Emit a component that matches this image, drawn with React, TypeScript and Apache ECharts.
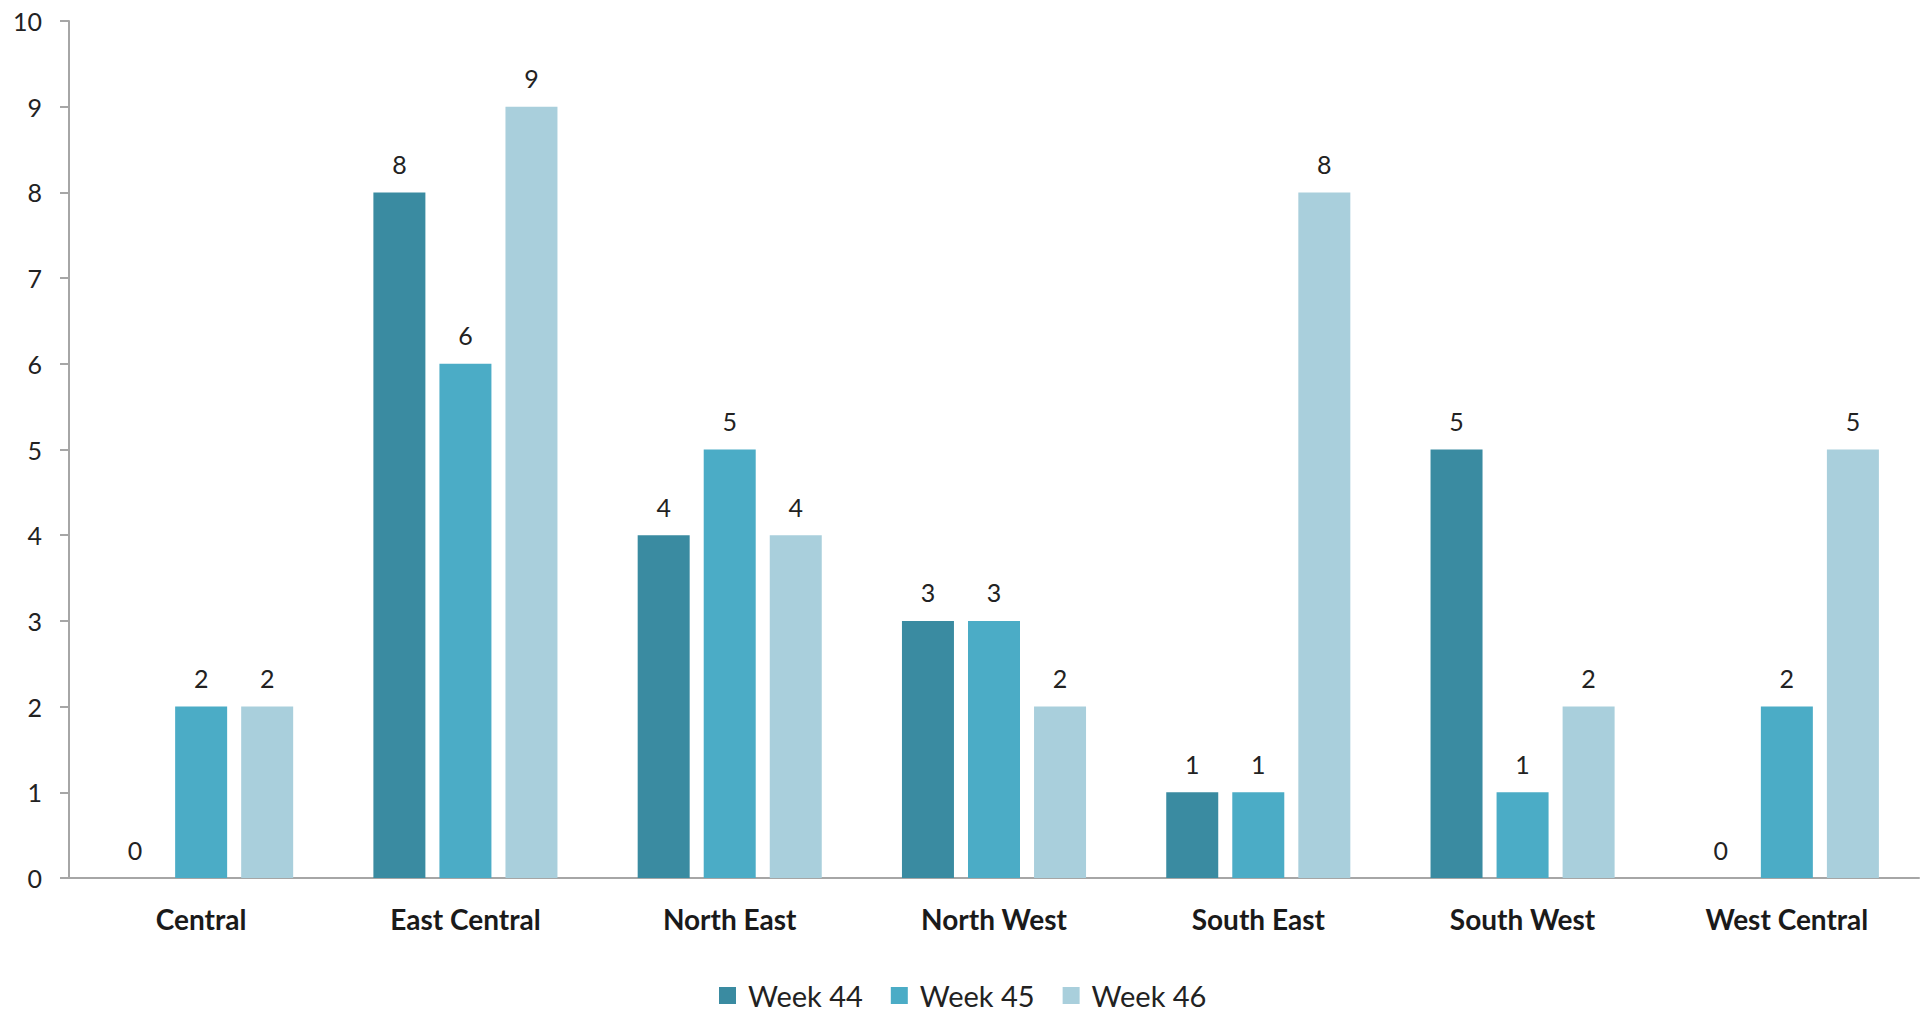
import React, { useEffect, useRef } from "react";
import * as echarts from "echarts";

const categories = ["Central", "East Central", "North East", "North West", "South East", "South West", "West Central"];
const week44 = [0, 8, 4, 3, 1, 5, 0];
const week45 = [2, 6, 5, 3, 1, 1, 2];
const week46 = [2, 9, 4, 2, 8, 2, 5];
const seriesNames = ["Week 44", "Week 45", "Week 46"];
const colors = ["#3a8ba1", "#4bacc6", "#a9cfdc"];

const FONT = "Lato, 'Open Sans', sans-serif";

export default function App() {
  const ref = useRef<HTMLDivElement>(null);
  useEffect(() => {
    document.body.style.margin = "0";
    if (!ref.current) return;
    const chart = echarts.init(ref.current, undefined, { renderer: "svg" });
    const values = [week44, week45, week46];
    chart.setOption({
      animation: false,
      backgroundColor: "#ffffff",
      textStyle: { fontFamily: FONT },
      grid: { left: 69, right: 12, top: 21, bottom: 135, containLabel: false, outerBoundsMode: "none" },
      legend: {
        data: seriesNames,
        left: 714,
        top: 976,
        itemWidth: 17,
        itemHeight: 17,
        itemGap: 28,
        icon: "rect",
        textStyle: { fontSize: 29, color: "#222", fontFamily: FONT, padding: [0, 0, 0, 7] },
      },
      xAxis: {
        type: "category",
        data: categories,
        axisLine: { lineStyle: { color: "#a6a6a6", width: 2 } },
        axisTick: { show: false },
        axisLabel: { fontSize: 28, fontWeight: "bold", color: "#1a1a1a", margin: 27, fontFamily: FONT },
      },
      yAxis: {
        type: "value",
        min: 0,
        max: 10,
        interval: 1,
        splitLine: { show: false },
        axisLine: { show: true, lineStyle: { color: "#a6a6a6", width: 2 } },
        axisTick: { show: true, length: 9, inside: false, lineStyle: { color: "#a6a6a6", width: 2 } },
        axisLabel: { fontSize: 25, color: "#222", margin: 27, fontFamily: FONT },
      },
      series: seriesNames.map((name, i) => ({
        name,
        type: "bar",
        data: values[i],
        barWidth: 52,
        barGap: "27%",
        itemStyle: { color: colors[i] },
        label: { show: true, position: "top", distance: 16, fontSize: 25, color: "#222", fontFamily: FONT },
      })),
    });
    return () => chart.dispose();
  }, []);
  return <div ref={ref} style={{ width: 1931, height: 1013 }} />;
}
